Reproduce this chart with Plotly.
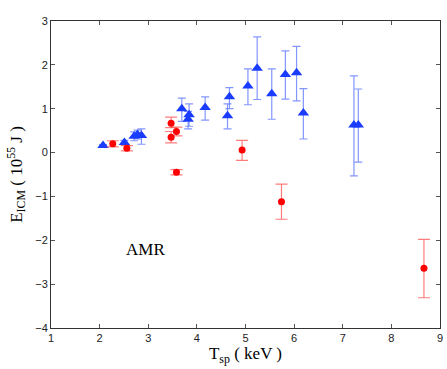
import plotly.graph_objects as go

# blue triangles
blue_x = [2.07, 2.51, 2.71, 2.78, 2.86, 3.69, 3.82, 3.84, 4.17, 4.63, 4.67, 5.05, 5.24, 5.54, 5.82, 6.05, 6.19, 7.23, 7.32]
blue_y = [0.16, 0.23, 0.37, 0.41, 0.39, 1.00, 0.76, 0.86, 1.03, 0.84, 1.27, 1.52, 1.92, 1.34, 1.78, 1.82, 0.90, 0.63, 0.63]
blue_up = [0.02, 0.05, 0.10, 0.10, 0.15, 0.24, 0.18, 0.25, 0.24, 0.27, 0.21, 0.39, 0.72, 0.57, 0.54, 0.60, 0.56, 1.12, 0.82]
blue_dn = [0.02, 0.05, 0.10, 0.10, 0.20, 0.29, 0.22, 0.26, 0.29, 0.30, 0.27, 0.43, 0.71, 0.58, 0.56, 0.64, 0.59, 1.16, 0.85]

# red circles
red_x = [2.27, 2.56, 3.47, 3.58, 3.47, 3.58, 4.93, 5.74, 8.67]
red_y = [0.20, 0.10, 0.67, 0.48, 0.35, -0.45, 0.06, -1.12, -2.64]
red_up = [0.07, 0.06, 0.14, 0.10, 0.13, 0.06, 0.22, 0.40, 0.66]
red_dn = [0.07, 0.06, 0.10, 0.10, 0.13, 0.06, 0.24, 0.40, 0.67]

fig = go.Figure()

fig.add_trace(go.Scatter(
    x=blue_x, y=blue_y, mode="markers",
    marker=dict(symbol="triangle-up", size=10, color="#1a3cff"),
    error_y=dict(type="data", symmetric=False, array=blue_up, arrayminus=blue_dn,
                 color="rgba(90,115,255,0.75)", thickness=1.2, width=4),
))

fig.add_trace(go.Scatter(
    x=red_x, y=red_y, mode="markers",
    marker=dict(symbol="circle", size=7, color="#ff0000"),
    error_y=dict(type="data", symmetric=False, array=red_up, arrayminus=red_dn,
                 color="rgba(255,80,80,0.75)", thickness=1.2, width=6),
))

fig.add_annotation(x=2.95, y=-2.2, text="AMR", showarrow=False,
                   font=dict(family="Liberation Serif", size=17, color="black"))

axis_common = dict(
    showgrid=False, zeroline=False, showline=True, linecolor="#333", linewidth=1,
    mirror="ticks", ticks="inside", ticklen=4, tickcolor="#555", automargin=False,
    ticklabeloverflow="allow",
    tickfont=dict(family="Liberation Sans", size=11, color="#222"),
)

fig.update_xaxes(range=[1, 9], dtick=1, **axis_common,
                 title=dict(text="T<sub>sp</sub> ( keV )", standoff=0,
                            font=dict(family="Liberation Serif", size=17, color="black")))
fig.update_yaxes(range=[-4, 3], dtick=1, **axis_common,
                 title=dict(text="E<sub>ICM</sub> ( 10<sup>55</sup> J )", standoff=8,
                            font=dict(family="Liberation Serif", size=17, color="black")))

fig.update_layout(
    width=447, height=369,
    margin=dict(l=51, r=7, t=21, b=41),
    plot_bgcolor="white", paper_bgcolor="white",
    showlegend=False,
)

# drop the default body margin so the figure fills the window
fig.write_html("out.html", config={"displayModeBar": False},
               post_script="document.body.style.margin='0';")
